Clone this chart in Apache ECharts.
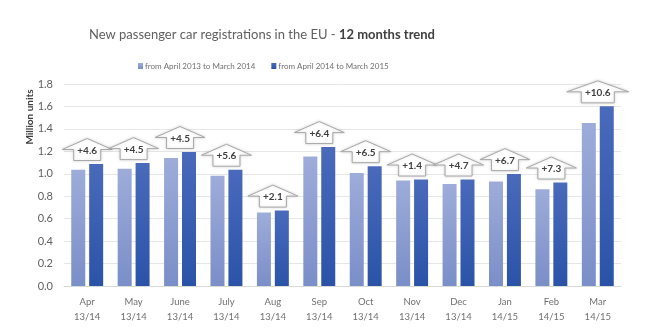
<!DOCTYPE html>
<html>
<head>
<meta charset="utf-8">
<script src="https://cdn.jsdelivr.net/npm/echarts@6/dist/echarts.min.js"></script>
<style>
html,body{margin:0;padding:0;background:#fff;}
#chart{width:650px;height:331px;}
</style>
</head>
<body>
<div id="chart"></div>
<script>
var months = ['Apr','May','June','July','Aug','Sep','Oct','Nov','Dec','Jan','Feb','Mar'];
var periods = ['13/14','13/14','13/14','13/14','13/14','13/14','13/14','13/14','13/14','14/15','14/15','14/15'];
var series2013 = [1.036,1.045,1.14,0.982,0.655,1.155,1.006,0.94,0.908,0.931,0.863,1.452];
var series2014 = [1.087,1.095,1.194,1.036,0.672,1.238,1.068,0.949,0.949,0.997,0.922,1.601];
var changes = ['+4.6','+4.5','+4.5','+5.6','+2.1','+6.4','+6.5','+1.4','+4.7','+6.7','+7.3','+10.6'];
var seriesNames = ['from April 2013 to March 2014','from April 2014 to March 2015'];
var yTicks = [0,0.2,0.4,0.6,0.8,1.0,1.2,1.4,1.6,1.8];

var categories = months.map(function(m,i){ return m + '\n' + periods[i]; });
var arrowData = series2014.map(function(v,i){ return [i, v, changes[i]]; });

var chart = echarts.init(document.getElementById('chart'));
var lightGrad = new echarts.graphic.LinearGradient(0,0,0,1,[{offset:0,color:'#9dacd9'},{offset:1,color:'#7a8ec8'}]);
var darkGrad = new echarts.graphic.LinearGradient(0,0,0,1,[{offset:0,color:'#4a6abb'},{offset:1,color:'#2a53a8'}]);

chart.setOption({
  animation:false,
  backgroundColor:'#fff',
  textStyle:{fontFamily:'Lato'},
  title:{
    text:'{n|New passenger car registrations in the EU - }{b|12 months trend}',
    left:84, top:23,
    textStyle:{fontWeight:'normal',rich:{
      n:{fontSize:13,color:'#606060',fontFamily:'Lato',fontWeight:'normal'},
      b:{fontSize:13,color:'#404040',fontWeight:'bold',fontFamily:'Lato'}
    }}
  },
  legend:{
    data:seriesNames,
    left:133, top:57,
    itemWidth:5, itemHeight:6, itemGap:16,
    icon:'rect',
    textStyle:{fontSize:8,color:'#707070',fontFamily:'Lato',padding:[0,0,0,-3]}
  },
  grid:{left:64,right:29,top:84,bottom:45},
  xAxis:{
    type:'category',
    data:categories,
    axisTick:{show:false},
    axisLine:{lineStyle:{color:'#d9d9d9'}},
    axisLabel:{color:'#707070',fontSize:9.5,lineHeight:15,margin:8,interval:0}
  },
  yAxis:{
    type:'value',
    min:yTicks[0], max:yTicks[yTicks.length-1], interval:0.2,
    axisLabel:{color:'#606060',fontSize:11,margin:11,formatter:function(v){return v.toFixed(1);}},
    splitLine:{lineStyle:{color:'#e6e6e6'}},
    axisLine:{show:false},axisTick:{show:false}
  },
  graphic:[{
    type:'text', x:30, y:117, rotation:Math.PI/2,
    style:{text:'Million units',fill:'#404040',font:'bold 10px Lato',textAlign:'center',textVerticalAlign:'middle'}
  }],
  series:[
    {name:seriesNames[0],type:'bar',data:series2013,barWidth:14,barGap:'28%',itemStyle:{color:lightGrad}},
    {name:seriesNames[1],type:'bar',data:series2014,barWidth:14,itemStyle:{color:darkGrad}},
    {
      type:'custom',
      data:arrowData,
      z:10,
      renderItem:function(params,api){
        var idx = api.value(0);
        var p = api.coord([idx, api.value(1)]);
        var label = changes[idx];
        var big = label.length > 4;
        var bw = big ? 33 : 27;
        var hw = big ? 62 : 50;
        var bh = 11, hh = 11;
        var cx = p[0], by = p[1] - 3.5;
        var pts = [
          [cx - bw/2, by],[cx - bw/2, by - bh],[cx - hw/2, by - bh],[cx, by - bh - hh],
          [cx + hw/2, by - bh],[cx + bw/2, by - bh],[cx + bw/2, by]
        ];
        return {
          type:'group',
          children:[
            {type:'polygon',shape:{points:pts},style:{fill:'#fff',stroke:'#a8a8a8',lineWidth:1,shadowBlur:3,shadowColor:'rgba(0,0,0,0.15)'}},
            {type:'text',style:{text:label,x:cx,y:by - bh + 1,textAlign:'center',textVerticalAlign:'middle',fill:'#404040',font:'bold 10px Lato'}}
          ]
        };
      },
      encode:{x:0,y:1},
      silent:true
    }
  ]
});
</script>
</body>
</html>
